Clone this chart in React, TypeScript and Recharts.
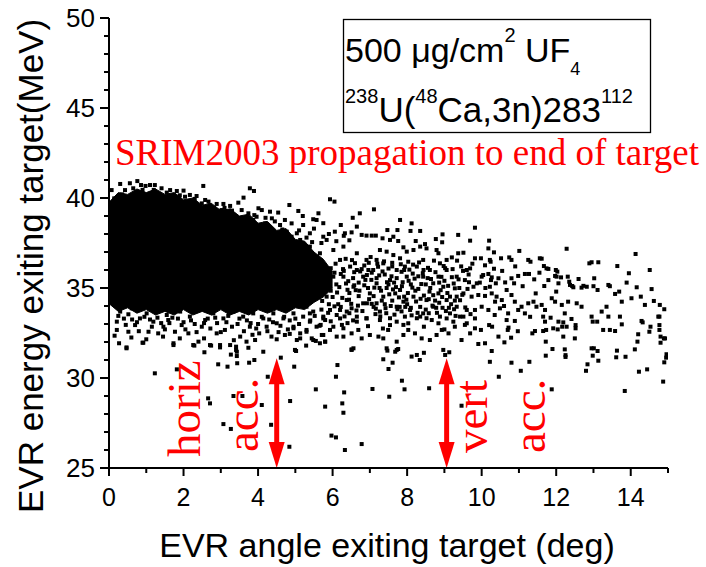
import { Area, ComposedChart, ReferenceLine, Scatter, XAxis, YAxis } from "recharts"

const SANS = "Liberation Sans, Arial, sans-serif"
const SERIF = "Liberation Serif, Times New Roman, serif"
const RED = "#ff0000"

// solid black core of the distribution: lower / upper edge per angle
const coreX = [0.02, 0.25, 0.5, 0.75, 1.0, 1.25, 1.5, 1.75, 2.0, 2.25, 2.5, 2.75, 3.0, 3.25, 3.5, 3.75, 4.0, 4.25, 4.5, 4.75, 5.0, 5.25, 5.5, 5.75, 6.0]
const coreLo = [34.1, 33.7, 33.9, 33.6, 33.8, 33.5, 33.7, 33.5, 33.8, 33.5, 33.7, 33.5, 33.8, 33.5, 33.7, 33.5, 33.8, 33.6, 33.8, 33.6, 33.9, 33.8, 34.2, 34.5, 35.0]
const coreHi = [39.8, 40.3, 40.2, 40.5, 40.3, 40.5, 40.2, 40.3, 39.9, 40.0, 39.6, 39.7, 39.3, 39.4, 39.0, 39.1, 38.6, 38.7, 38.2, 38.3, 37.7, 37.6, 37.0, 36.6, 35.9]

// individual events (angle deg, energy MeV)
const upperFringe: [number, number][] = [
  [0.30, 40.78], [0.56, 40.82], [0.76, 40.94], [0.86, 40.72], [0.98, 40.67], [1.10, 40.72], [1.23, 40.72],
  [1.41, 40.54], [1.64, 40.44], [1.82, 40.39], [2.00, 40.41], [2.17, 40.17], [2.35, 40.11], [2.53, 40.67],
  [2.58, 39.89], [2.67, 39.80], [2.89, 39.67], [3.07, 39.67], [3.25, 39.56], [3.47, 39.74], [3.61, 40.02],
  [3.78, 40.54], [3.89, 40.39], [4.01, 39.43], [4.10, 39.33], [4.32, 39.24], [4.54, 39.19], [4.84, 39.61],
  [4.72, 38.78], [4.19, 38.59], [3.87, 38.78], [3.47, 38.69], [3.34, 39.06], [0.07, 40.44], [0.14, 39.98],
  [0.05, 39.52], [0.21, 39.80], [0.43, 40.44], [0.65, 40.54], [2.04, 40.07], [2.26, 39.80], [2.49, 39.70],
  [2.76, 39.43], [3.02, 39.33], [3.16, 39.15], [3.56, 39.33], [3.74, 39.15], [3.96, 38.96], [4.37, 38.87],
  [4.59, 38.50], [4.77, 38.13], [4.90, 37.85], [1.20, 40.45], [1.55, 40.30], [1.90, 40.15], [2.30, 39.95],
  [2.70, 39.60], [3.10, 39.45], [3.30, 39.30], [3.90, 39.05], [4.20, 38.90], [4.45, 38.70], [4.65, 38.25],
  [0.35, 40.20], [0.90, 40.45], [5.10, 38.20], [5.30, 37.80], [5.50, 38.30], [5.70, 37.50], [5.90, 38.00],
  [6.10, 37.60], [6.30, 37.90], [5.45, 37.55], [6.45, 37.65], [5.20, 39.00], [5.75, 38.60],
]

const midUpper: [number, number][] = [
  [5.93, 39.93], [6.05, 39.80], [5.08, 39.28], [5.62, 39.15], [5.57, 38.78], [4.90, 38.59], [5.21, 38.50],
  [5.48, 38.82], [7.11, 39.37], [6.73, 39.15], [6.54, 38.90], [7.81, 38.78], [8.12, 38.59], [8.35, 38.17],
  [8.09, 38.17], [6.22, 38.50], [6.65, 38.41], [7.47, 38.22], [7.74, 38.22], [8.95, 37.98], [9.37, 37.95],
  [9.69, 37.63], [8.77, 37.72], [8.94, 37.54], [8.23, 37.61], [8.48, 37.44], [6.06, 38.13], [6.33, 38.04],
  [6.51, 38.09], [6.78, 37.95], [6.91, 37.91], [7.05, 37.91], [7.16, 37.91], [7.34, 37.76], [7.54, 37.67],
  [7.63, 37.85], [7.76, 37.61], [7.90, 37.26], [7.99, 37.02], [8.17, 37.11], [8.35, 37.30], [8.52, 37.20],
  [8.79, 37.11], [8.84, 36.93], [9.06, 36.56], [9.20, 36.70], [9.37, 36.93], [9.51, 36.96], [9.82, 36.65],
  [6.29, 37.30], [6.65, 36.93], [6.91, 36.56], [6.47, 36.19], [7.09, 36.00], [7.36, 36.37], [7.72, 36.00],
  [6.20, 36.56], [5.66, 36.93], [5.39, 37.30], [5.13, 37.67], [5.84, 37.67], [6.02, 37.11], [5.75, 37.85],
  [5.39, 38.04], [5.04, 38.04], [5.26, 36.83], [5.04, 37.11], [6.96, 36.00], [7.94, 36.19], [8.61, 36.00],
  [8.88, 36.37], [8.43, 36.56], [7.18, 36.56], [6.65, 36.00], [8.26, 36.19], [8.03, 36.46], [7.81, 36.65],
  [7.63, 36.83], [7.45, 37.02], [7.27, 37.11], [9.60, 36.00], [9.69, 36.09], [9.06, 36.00],
]

const midLower: [number, number][] = [
  [7.99, 35.63], [7.54, 35.44], [7.18, 35.26], [6.82, 35.63], [6.56, 35.07], [7.00, 34.70], [7.36, 34.52],
  [7.81, 34.89], [8.17, 34.52], [8.52, 34.33], [8.43, 33.59], [8.08, 33.78], [7.72, 33.96], [7.27, 33.69],
  [6.82, 34.15], [6.38, 34.33], [6.20, 33.78], [6.65, 33.41], [7.54, 33.32], [8.26, 33.32], [8.88, 33.41],
  [8.70, 33.96], [8.97, 35.07], [9.15, 34.52], [6.02, 35.63], [6.29, 35.63], [5.84, 34.52], [5.93, 33.78],
  [5.75, 33.41], [5.39, 33.59], [5.30, 33.96], [8.84, 35.63], [7.18, 34.15], [7.90, 34.24], [6.51, 33.87],
  [6.91, 33.32], [7.94, 33.41], [8.52, 33.32], [9.15, 33.59], [9.51, 33.41], [9.33, 34.52], [9.78, 35.07],
  [9.55, 35.44], [9.33, 35.63], [9.28, 34.98], [9.51, 34.70], [9.73, 34.52], [9.82, 33.78], [9.60, 33.78],
  [9.33, 33.96], [9.06, 34.33], [8.84, 34.70], [8.70, 35.26], [8.43, 35.63], [6.10, 35.20], [6.40, 34.90],
  [6.70, 35.30], [6.95, 35.00], [7.25, 35.70], [7.45, 35.00], [7.65, 35.30], [7.85, 35.90], [8.10, 35.20],
  [8.30, 34.95], [8.60, 34.80], [8.00, 34.10], [7.60, 34.30], [7.10, 33.95], [6.70, 34.55], [6.30, 35.95],
  [6.00, 34.50], [5.70, 34.90], [5.50, 35.30], [5.85, 35.90], [6.55, 35.55], [7.40, 34.10], [8.35, 33.95],
  [8.75, 34.30], [9.00, 35.40], [7.05, 35.85], [6.85, 36.25], [7.60, 36.40], [8.15, 35.80], [8.55, 35.55],
  [6.15, 34.10], [6.45, 33.60], [7.85, 33.70], [8.95, 33.90], [9.25, 35.25], [9.45, 36.20], [9.65, 35.75],
]

const midDense: [number, number][] = [
  [5.62, 35.55], [5.78, 36.15], [5.95, 34.85], [6.08, 36.35], [6.18, 35.05], [6.26, 34.45], [6.35, 36.62],
  [6.42, 35.38], [6.50, 34.12], [6.60, 36.38], [6.62, 34.88], [6.74, 35.92], [6.80, 33.72], [6.88, 35.45],
  [6.98, 34.38], [7.02, 36.72], [7.12, 35.02], [7.15, 33.55], [7.22, 36.18], [7.30, 34.85], [7.34, 35.92],
  [7.42, 33.88], [7.50, 36.08], [7.52, 34.65], [7.58, 35.65], [7.66, 33.52], [7.70, 35.05], [7.78, 34.48],
  [7.83, 36.32], [7.88, 35.32], [7.95, 33.95], [8.02, 34.72], [8.06, 36.02], [8.12, 33.48], [8.20, 35.52],
  [8.24, 34.25], [8.32, 36.42], [8.38, 35.22], [8.45, 34.58], [8.50, 33.80], [8.56, 36.12], [8.62, 35.00],
  [8.68, 34.02], [8.76, 35.88], [8.80, 33.62], [8.90, 34.88], [8.98, 36.22], [9.04, 33.72], [9.10, 35.12],
  [9.18, 34.10], [9.22, 36.05], [9.30, 33.45], [9.38, 35.48], [9.42, 34.32], [9.50, 35.95], [9.56, 33.92],
  [9.62, 34.95], [9.70, 33.55], [9.75, 36.35], [5.72, 34.28], [5.90, 35.32], [6.05, 33.98], [6.22, 35.78],
  [6.32, 33.42], [6.45, 34.72], [6.58, 35.88], [6.68, 34.02], [6.92, 35.72], [7.05, 34.12], [7.18, 35.55],
  [7.28, 33.42], [7.38, 36.48], [7.46, 35.32], [7.62, 34.92], [7.74, 33.82], [7.92, 34.52], [8.14, 35.02],
  [8.28, 33.62], [8.42, 35.82], [8.58, 34.38], [8.72, 36.52], [8.86, 34.18], [8.92, 35.62], [9.08, 34.72],
  [9.26, 33.82], [9.34, 36.52], [9.48, 34.62], [9.66, 35.32], [5.52, 33.45], [5.68, 32.95], [5.88, 33.62],
  [6.40, 33.05], [6.95, 32.88], [7.35, 32.75], [7.90, 32.95], [8.45, 32.85], [9.00, 32.70], [9.55, 32.95],
  [6.05, 35.85], [6.12, 34.75], [6.22, 33.95], [6.28, 36.05], [6.36, 35.25], [6.44, 34.35], [6.52, 36.55],
  [6.58, 35.15], [6.64, 33.75], [6.72, 34.85], [6.78, 36.05], [6.85, 35.15], [6.92, 34.15], [6.97, 36.40],
  [7.04, 35.45], [7.10, 34.55], [7.16, 33.85], [7.20, 36.35], [7.26, 35.00], [7.32, 34.30], [7.40, 35.75],
  [7.44, 33.60], [7.50, 35.20], [7.56, 34.00], [7.60, 36.20], [7.68, 34.70], [7.72, 35.55], [7.80, 33.95],
  [7.86, 35.10], [7.92, 36.00], [7.98, 34.35], [8.04, 35.40], [8.10, 33.90], [8.16, 36.30], [8.22, 34.85],
  [8.30, 35.65], [8.36, 34.40], [8.44, 36.00], [8.50, 35.20], [8.58, 33.60], [8.64, 35.50], [8.70, 34.60],
  [8.78, 33.90], [8.86, 35.30], [8.94, 34.50], [9.02, 36.10], [9.12, 33.90], [9.20, 35.60], [9.28, 34.30],
  [9.40, 35.00], [5.80, 35.00], [5.95, 36.10], [5.70, 33.80], [5.55, 34.60], [5.90, 34.10],
]

const lowerFringe: [number, number][] = [
  [0.21, 33.13], [0.21, 32.67], [0.27, 31.93], [0.47, 31.65], [0.52, 32.57], [0.52, 33.54], [0.70, 32.94],
  [0.92, 31.96], [0.83, 33.31], [1.06, 32.57], [1.19, 33.13], [1.32, 32.48], [1.46, 32.85], [1.59, 33.22],
  [1.73, 31.93], [1.77, 32.57], [1.95, 32.94], [2.13, 32.48], [2.26, 31.83], [2.40, 32.02], [2.49, 32.85],
  [2.58, 33.22], [2.71, 31.83], [2.89, 32.48], [2.98, 31.83], [3.11, 32.67], [3.25, 31.83], [3.41, 31.74],
  [3.43, 31.46], [3.52, 32.30], [3.69, 32.02], [3.78, 32.85], [3.92, 32.11], [4.03, 32.48], [4.14, 31.46],
  [4.23, 32.85], [4.36, 32.30], [4.50, 33.04], [4.72, 32.39], [4.95, 32.85], [4.99, 31.56], [5.13, 32.20],
  [5.30, 32.57], [5.48, 32.11], [5.71, 32.39], [5.80, 32.02], [6.02, 32.85], [6.51, 31.56], [6.29, 32.30],
  [0.30, 33.69], [0.61, 33.87], [1.01, 33.59], [1.28, 33.78], [1.55, 33.50], [1.91, 33.69], [2.17, 33.41],
  [2.44, 33.87], [2.80, 33.59], [3.07, 33.31], [3.34, 33.69], [3.60, 33.41], [3.87, 33.59], [4.14, 33.31],
  [4.41, 33.59], [4.68, 33.31], [4.95, 33.59], [5.21, 33.41], [5.48, 33.69], [5.75, 33.31], [6.11, 33.50],
  [6.38, 33.69], [0.47, 31.70], [0.90, 31.96], [1.73, 31.83], [2.29, 31.80], [2.56, 31.43], [2.74, 31.80],
  [2.98, 31.70], [3.41, 31.56], [3.43, 31.22], [3.27, 31.30], [3.74, 31.68], [0.40, 33.30], [0.75, 33.10],
  [1.10, 33.25], [1.40, 33.05], [1.70, 33.35], [2.00, 33.10], [2.30, 33.00], [2.65, 33.30], [2.90, 33.05],
  [3.20, 33.45], [3.45, 33.00], [3.70, 33.20], [4.00, 33.00], [4.30, 33.25], [4.60, 32.90], [4.85, 33.20],
  [5.10, 33.00], [5.40, 33.20], [5.65, 32.90], [5.95, 33.15], [6.25, 32.95], [6.55, 33.20],
  [5.39, 33.13], [5.80, 33.22], [6.20, 33.31], [6.65, 33.13], [6.91, 33.31], [7.27, 33.22], [7.72, 33.13],
  [8.03, 33.04], [8.35, 33.41], [8.66, 33.22], [9.06, 33.31], [9.42, 33.41], [9.82, 33.31], [7.54, 32.94],
  [8.84, 33.04], [9.24, 33.13], [9.60, 33.04], [4.95, 32.76], [5.13, 32.48], [5.30, 32.67], [5.44, 32.20],
  [5.57, 32.85], [5.75, 32.39], [5.93, 32.67], [6.11, 32.30], [6.29, 32.76], [6.51, 32.48], [6.69, 32.67],
  [6.78, 32.20], [7.00, 32.39], [7.23, 32.30], [7.36, 32.20], [7.49, 32.67], [7.72, 32.02], [7.90, 32.39],
  [8.03, 32.67], [8.21, 32.48], [8.39, 32.20], [8.61, 32.11], [8.79, 32.39], [8.93, 32.67], [9.11, 32.48],
  [9.28, 32.85], [9.46, 32.11], [9.69, 32.48], [9.82, 32.76], [5.04, 32.11], [5.80, 32.02], [6.56, 31.65],
  [7.45, 31.65], [7.72, 31.56], [8.12, 31.19], [8.26, 31.28], [8.97, 31.56], [9.02, 31.28], [9.13, 31.43],
  [5.02, 31.50], [5.29, 31.80], [5.55, 32.06], [5.66, 31.93], [6.51, 31.59], [7.47, 31.52], [7.68, 31.46],
  [7.76, 31.61], [8.45, 31.40], [0.25, 33.45], [0.45, 32.95], [0.62, 33.25], [0.80, 32.60], [0.95, 33.40],
  [1.15, 32.85], [1.30, 33.35], [1.50, 32.70], [1.62, 33.05], [1.85, 33.30], [2.05, 32.70], [2.20, 33.20],
  [2.35, 32.55], [2.55, 33.05], [2.72, 32.75], [2.85, 33.35], [3.00, 32.55], [3.15, 33.10], [3.30, 32.85],
  [3.50, 33.30], [3.62, 32.60], [3.80, 33.05], [3.95, 32.75], [4.10, 33.40], [4.25, 32.60], [4.40, 33.10],
  [4.55, 32.55], [4.70, 33.40], [4.80, 32.70], [5.00, 33.30], [0.15, 32.35], [0.60, 32.25], [1.00, 32.15],
  [1.45, 32.30], [1.90, 32.20], [2.55, 32.20], [3.35, 32.10], [3.85, 32.40], [4.50, 32.15], [4.85, 32.45],
]

const farCloud: [number, number][] = [
  [9.82, 38.35], [10.20, 37.63], [10.18, 37.20], [10.33, 36.98], [11.01, 37.06], [12.28, 37.18], [14.13, 36.89],
  [9.98, 36.65], [10.22, 36.56], [10.24, 36.46], [10.52, 36.65], [10.74, 36.70], [10.80, 36.56], [11.25, 36.56],
  [11.31, 36.46], [11.61, 36.63], [11.67, 36.22], [11.79, 36.06], [11.99, 36.00], [12.03, 35.91], [11.97, 35.67],
  [12.89, 36.37], [12.95, 36.43], [13.13, 36.43], [13.64, 36.22], [13.95, 35.82], [14.51, 36.00], [10.33, 36.07],
  [10.09, 36.26], [10.00, 35.63], [10.04, 35.72], [10.18, 35.78], [10.27, 35.59], [10.25, 35.44], [9.87, 35.26],
  [9.95, 35.30], [10.22, 35.07], [10.38, 35.26], [10.45, 35.54], [10.63, 35.31], [10.80, 35.54], [10.87, 35.26],
  [10.98, 35.67], [11.16, 35.78], [11.27, 35.78], [11.41, 35.48], [11.68, 35.11], [11.79, 35.44], [12.01, 35.63],
  [12.13, 35.59], [12.31, 35.63], [12.35, 35.35], [12.43, 35.11], [12.68, 35.02], [12.82, 35.07], [13.02, 35.54],
  [13.11, 34.89], [13.40, 35.17], [13.58, 34.67], [13.69, 34.80], [13.89, 35.30], [14.16, 35.04], [14.56, 34.94],
  [14.62, 34.28], [14.78, 34.06], [14.90, 33.82], [9.91, 34.61], [10.09, 34.56], [10.27, 34.70], [10.40, 34.52],
  [10.54, 34.33], [10.67, 34.89], [10.80, 34.61], [10.89, 34.24], [11.07, 33.96], [11.25, 34.15], [11.39, 34.24],
  [10.00, 33.96], [10.18, 33.78], [10.36, 34.24], [10.49, 33.87], [10.71, 33.59], [10.98, 33.78], [11.16, 33.59],
  [11.47, 33.96], [11.61, 34.06], [11.70, 33.78], [11.88, 34.43], [11.97, 34.24], [12.15, 34.06], [12.32, 34.24],
  [12.23, 33.59], [12.55, 34.15], [12.68, 33.96], [12.95, 33.41], [13.22, 33.69], [13.35, 33.96], [13.40, 33.41],
  [13.76, 34.24], [14.02, 34.43], [14.27, 34.52], [14.38, 34.06], [14.74, 33.41], [11.56, 36.65], [11.74, 36.09],
  [12.06, 35.26], [12.37, 35.17], [12.46, 35.04], [13.00, 35.10], [13.44, 35.10], [12.73, 35.12],
  [9.91, 31.89], [10.09, 31.93], [10.61, 31.98], [11.90, 31.61], [12.23, 31.59], [12.95, 31.65], [13.01, 31.65],
  [13.11, 31.50], [14.11, 31.59], [14.18, 32.02], [14.80, 31.96], [14.89, 32.20], [13.63, 31.52], [11.72, 32.02],
  [12.19, 32.30], [12.50, 32.20], [11.36, 32.48], [11.43, 32.61], [11.65, 32.61], [11.73, 32.67], [10.97, 32.60],
  [10.72, 32.80], [10.70, 32.67], [9.98, 32.67], [10.20, 32.94], [10.28, 32.85], [10.45, 32.30], [10.79, 32.24],
  [11.92, 32.76], [12.04, 32.70], [12.16, 32.85], [12.28, 32.85], [13.26, 32.67], [13.44, 32.67], [13.58, 32.61],
  [13.76, 32.98], [14.20, 32.43], [14.50, 32.57], [14.53, 32.85], [14.77, 32.94], [14.77, 32.67], [14.80, 32.30],
  [14.92, 32.20], [10.67, 33.22], [10.89, 33.17], [11.65, 33.41], [11.70, 33.13], [12.06, 33.13], [12.19, 33.09],
  [12.41, 33.28], [12.52, 32.94], [12.52, 32.76], [12.98, 33.13], [13.10, 33.13], [13.71, 33.41], [14.29, 33.17],
  [14.32, 33.09], [14.77, 33.41], [10.27, 31.50], [11.72, 31.24], [12.25, 31.27], [12.25, 31.17], [12.98, 31.24],
  [13.13, 30.96], [13.61, 31.15], [13.86, 31.18], [10.10, 35.00], [10.55, 35.95], [10.90, 36.20], [11.10, 35.10],
  [11.45, 34.70], [11.55, 35.85], [10.60, 34.00], [11.30, 33.40], [12.00, 34.80], [12.60, 35.50], [10.35, 33.50],
  [11.85, 33.35],
]

const lowOutliers: [number, number][] = [
  [1.23, 30.26], [1.82, 30.48], [2.66, 28.87], [2.71, 28.59], [3.07, 27.44], [3.27, 27.17], [3.34, 29.00],
  [3.58, 29.00], [2.93, 30.76], [3.18, 30.63], [3.44, 30.82], [3.76, 30.85], [3.90, 31.00], [4.10, 28.50],
  [4.26, 30.07], [4.35, 27.40], [4.61, 31.13], [4.86, 28.72], [4.84, 26.18], [4.97, 30.63], [5.55, 29.37],
  [5.80, 28.41], [6.09, 30.07], [6.13, 30.72], [6.31, 29.20], [6.26, 28.59], [6.29, 28.07], [5.97, 26.80],
  [6.09, 26.70], [6.33, 26.00], [6.78, 26.33], [7.07, 29.39], [7.52, 28.96], [7.50, 30.50], [7.61, 30.85],
  [7.36, 31.04], [7.86, 29.85], [7.93, 29.37], [8.59, 29.43], [9.46, 28.46], [8.34, 31.00], [11.88, 29.37],
  [13.84, 29.28], [14.87, 29.80], [10.46, 30.07], [11.05, 30.40], [10.22, 30.90], [10.80, 30.85], [11.28, 30.90],
  [12.80, 30.40], [12.84, 30.76], [14.22, 30.35], [14.44, 30.48], [14.90, 30.87], [14.95, 31.13], [14.96, 31.32],
]

const xTicks = [0, 1, 2, 3, 4, 5, 6, 7, 8, 9, 10, 11, 12, 13, 14, 15]
const xLabels = [0, 2, 4, 6, 8, 10, 12, 14]
const yTicks = [25, 26, 27, 28, 29, 30, 31, 32, 33, 34, 35, 36, 37, 38, 39, 40, 41, 42, 43, 44, 45, 46, 47, 48, 49, 50]
const yLabels = [25, 30, 35, 40, 45, 50]

// acceptance arrows
const arrowX = [4.5, 9.06]
const arrowTop = 31.1
const arrowBottom = 25

const coreData = coreX.map((x, i) => ({ x, band: [coreLo[i], coreHi[i]] }))
const toPoints = (pairs: [number, number][]) => pairs.map(([x, y]) => ({ x, y }))

const Dot = (props: any) => (
  <rect x={props.cx - 2} y={props.cy - 2} width={4} height={4} fill="#000" />
)

const XTick = (props: any) => {
  const { x, y, payload } = props
  const major = xLabels.includes(payload.value)
  return (
    <g>
      <line x1={x} y1={y} x2={x} y2={y + (major ? 8 : 5)} stroke="#000" strokeWidth={2} />
      {major && (
        <text x={x} y={y + 38} textAnchor="middle" fontSize={25} fontFamily={SANS} fill="#000">
          {payload.value}
        </text>
      )}
    </g>
  )
}

const YTick = (props: any) => {
  const { x, y, payload } = props
  const major = yLabels.includes(payload.value)
  return (
    <g>
      <line x1={x - (major ? 9 : 5)} y1={y} x2={x} y2={y} stroke="#000" strokeWidth={2} />
      {major && (
        <text x={x - 14} y={y} dy="0.36em" textAnchor="end" fontSize={26} fontFamily={SANS} fill="#000">
          {payload.value}
        </text>
      )}
    </g>
  )
}

const Arrow = (props: any) => {
  const { x1, y1, y2 } = props
  const top = Math.min(y1, y2)
  const bottom = Math.max(y1, y2)
  return (
    <g>
      <line x1={x1} y1={top + 20} x2={x1} y2={bottom - 20} stroke={RED} strokeWidth={5} />
      <polygon points={`${x1},${top} ${x1 - 8},${top + 26} ${x1 + 8},${top + 26}`} fill={RED} />
      <polygon points={`${x1},${bottom} ${x1 - 8},${bottom - 26} ${x1 + 8},${bottom - 26}`} fill={RED} />
    </g>
  )
}

export default function App() {
  return (
    <div style={{ position: "absolute", left: 0, top: 0, width: 706, height: 567, background: "#fff" }}>
      <ComposedChart
        width={706}
        height={567}
        data={coreData}
        margin={{ top: 18, right: 38, bottom: 39, left: 9 }}
      >
        <XAxis
          type="number"
          dataKey="x"
          domain={[0, 15]}
          ticks={xTicks}
          interval={0}
          allowDataOverflow
          height={60}
          tickSize={0}
          tickMargin={0}
          tickLine={false}
          tick={<XTick />}
          axisLine={{ stroke: "#000", strokeWidth: 2 }}
        />
        <YAxis
          type="number"
          dataKey="y"
          domain={[25, 50]}
          ticks={yTicks}
          interval={0}
          allowDataOverflow
          width={100}
          tickSize={0}
          tickMargin={0}
          tickLine={false}
          tick={<YTick />}
          axisLine={{ stroke: "#000", strokeWidth: 2 }}
        />
        <Area
          dataKey="band"
          type="linear"
          stroke="#000"
          strokeWidth={1}
          fill="#000"
          fillOpacity={1}
          dot={false}
          activeDot={false}
          isAnimationActive={false}
        />
        <Scatter data={toPoints(upperFringe)} shape={Dot} isAnimationActive={false} />
        <Scatter data={toPoints(midUpper)} shape={Dot} isAnimationActive={false} />
        <Scatter data={toPoints(midLower)} shape={Dot} isAnimationActive={false} />
        <Scatter data={toPoints(midDense)} shape={Dot} isAnimationActive={false} />
        <Scatter data={toPoints(lowerFringe)} shape={Dot} isAnimationActive={false} />
        <Scatter data={toPoints(farCloud)} shape={Dot} isAnimationActive={false} />
        <Scatter data={toPoints(lowOutliers)} shape={Dot} isAnimationActive={false} />
        {arrowX.map((ax) => (
          <ReferenceLine
            key={ax}
            segment={[
              { x: ax, y: arrowBottom },
              { x: ax, y: arrowTop },
            ]}
            shape={<Arrow />}
          />
        ))}
      </ComposedChart>
      <svg
        width={706}
        height={567}
        style={{ position: "absolute", left: 0, top: 0, pointerEvents: "none" }}
      >
        <rect x={343.5} y={19.5} width={307} height={113} fill="none" stroke="#000" strokeWidth={1.3} />
        <text x={345} y={62} fontSize={34} fontFamily={SANS} fill="#000">
          500 μg/cm
          <tspan dy={-20} fontSize={20}>2</tspan>
          <tspan dy={20}> UF</tspan>
          <tspan dy={13} fontSize={18}>4</tspan>
        </text>
        <text x={345} y={122} fontSize={35} fontFamily={SANS} fill="#000">
          <tspan dy={-19} fontSize={20}>238</tspan>
          <tspan dy={19}>U(</tspan>
          <tspan dy={-19} fontSize={20}>48</tspan>
          <tspan dy={19}>Ca,3n)283</tspan>
          <tspan dy={-19} fontSize={20}>112</tspan>
        </text>
        <text x={115} y={165} fontSize={37} fontFamily={SERIF} fill={RED}>
          SRIM2003 propagation to end of target
        </text>
        <text transform="translate(200,457) rotate(-90)" fontSize={47} fontFamily={SERIF} fill={RED}>
          horiz
        </text>
        <text transform="translate(258,452) rotate(-90)" fontSize={47} fontFamily={SERIF} fill={RED}>
          acc.
        </text>
        <text transform="translate(487,453) rotate(-90)" fontSize={47} fontFamily={SERIF} fill={RED}>
          vert
        </text>
        <text transform="translate(545,453) rotate(-90)" fontSize={47} fontFamily={SERIF} fill={RED}>
          acc.
        </text>
        <text x={387} y={557} textAnchor="middle" fontSize={34} fontFamily={SANS} fill="#000">
          EVR angle exiting target (deg)
        </text>
        <text transform="translate(43,513) rotate(-90)" fontSize={35} fontFamily={SANS} fill="#000">
          EVR energy exiting target(MeV)
        </text>
      </svg>
    </div>
  )
}
